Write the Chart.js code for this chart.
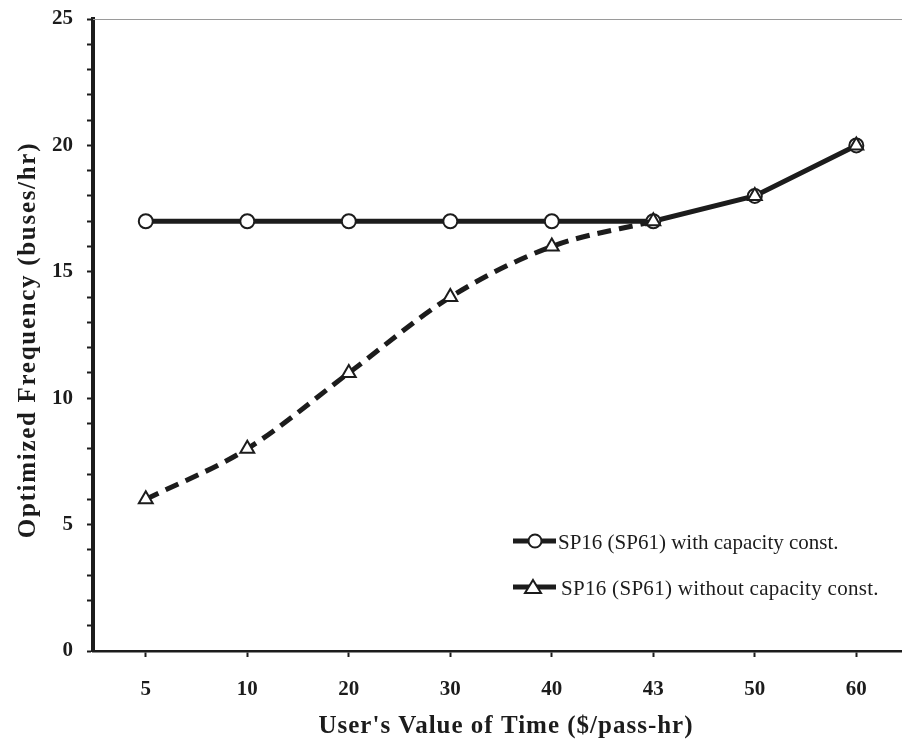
<!DOCTYPE html>
<html>
<head>
<meta charset="utf-8">
<script src="https://cdn.jsdelivr.net/npm/chart.js@4.4.0/dist/chart.umd.min.js"></script>
<style>
  html, body { margin: 0; padding: 0; background: #fff; }
  #wrap { width: 902px; height: 744px; }
</style>
</head>
<body>
<div id="wrap"><canvas id="freqChart" width="902" height="744"></canvas></div>
<script>
"use strict";

// Value of time categories ($/pass-hr)
const timeValues = ['5', '10', '20', '30', '40', '43', '50', '60'];
// Optimized frequency (buses/hr)
const withCapacity = [17, 17, 17, 17, 17, 17, 18, 20];
const withoutCapacity = [6, 8, 11, 14, 16, 17, 18, 20];

const seriesNames = ['SP16 (SP61) with capacity const.', 'SP16 (SP61) without capacity const.'];
const yTicks = [0, 5, 10, 15, 20, 25];

const ink = '#1c1c1c';
const serif = "'Liberation Serif', 'DejaVu Serif', serif";

var toPoints = function (values) {
    return values.map(function (v, i) { return { x: i, y: v }; });
};

// top frame line, axis titles and the legend inside the plot
var extrasPlugin = {
    id: 'extras',
    afterDraw: function (chart) {
        const ctx = chart.ctx;
        const area = chart.chartArea;
        ctx.save();

        ctx.strokeStyle = '#9a9a9a';
        ctx.lineWidth = 1.2;
        ctx.beginPath();
        ctx.moveTo(area.left, area.top + 0.5);
        ctx.lineTo(area.right, area.top + 0.5);
        ctx.stroke();

        // axis titles
        ctx.fillStyle = ink;
        ctx.font = 'bold 25px ' + serif;
        ctx.textAlign = 'center';
        ctx.textBaseline = 'alphabetic';
        ctx.letterSpacing = '1px';
        ctx.fillText("User's Value of Time ($/pass-hr)", 506, 733);

        ctx.save();
        ctx.translate(35, 340);
        ctx.rotate(-Math.PI / 2);
        ctx.letterSpacing = '1.7px';
        ctx.fillText('Optimized Frequency (buses/hr)', 0, 0);
        ctx.restore();

        // legend
        const rows = [
            { y: 541, marker: 'circle', text: seriesNames[0], tx: 558, ls: '0px' },
            { y: 587, marker: 'triangle', text: seriesNames[1], tx: 561, ls: '0.3px' }
        ];
        ctx.font = '21px ' + serif;
        ctx.textAlign = 'left';
        ctx.textBaseline = 'middle';
        rows.forEach(function (r) {
            ctx.strokeStyle = ink;
            ctx.lineWidth = 5;
            ctx.beginPath();
            ctx.moveTo(513, r.y);
            ctx.lineTo(556, r.y);
            ctx.stroke();
            ctx.lineWidth = 2;
            ctx.fillStyle = '#fff';
            ctx.beginPath();
            if (r.marker === 'circle') {
                ctx.arc(535, r.y, 6.5, 0, Math.PI * 2);
            } else {
                ctx.moveTo(533, r.y - 7);
                ctx.lineTo(541, r.y + 6);
                ctx.lineTo(525, r.y + 6);
                ctx.closePath();
            }
            ctx.fill();
            ctx.stroke();
            ctx.fillStyle = ink;
            ctx.letterSpacing = r.ls;
            ctx.fillText(r.text, r.tx, r.y + 2);
        });
        ctx.restore();
    }
};

var chart = new Chart(document.getElementById('freqChart'), {
    type: 'line',
    data: {
        datasets: [
            {
                label: seriesNames[0],
                data: toPoints(withCapacity),
                borderColor: ink,
                borderWidth: 5,
                tension: 0,
                pointStyle: 'circle',
                pointRadius: 7,
                pointBorderWidth: 2,
                pointBackgroundColor: '#fff',
                pointBorderColor: ink,
                order: 1
            },
            {
                label: seriesNames[1],
                data: toPoints(withoutCapacity),
                borderColor: ink,
                borderWidth: 5,
                borderDash: [14, 8],
                pointStyle: 'triangle',
                pointRadius: 8,
                pointBorderWidth: 2,
                pointBackgroundColor: '#fff',
                pointBorderColor: ink,
                cubicInterpolationMode: 'monotone',
                // where both series coincide only the solid line shows
                segment: {
                    borderColor: function (c) {
                        return withoutCapacity[c.p0DataIndex] === withCapacity[c.p0DataIndex] ? 'rgba(0,0,0,0)' : undefined;
                    }
                },
                order: 0
            }
        ]
    },
    options: {
        responsive: false,
        animation: false,
        layout: { autoPadding: false, padding: { top: 19, right: 0, left: 0, bottom: 0 } },
        plugins: {
            legend: { display: false },
            tooltip: { enabled: false }
        },
        scales: {
            x: {
                type: 'linear',
                min: -0.52,
                max: 7.45,
                afterBuildTicks: function (scale) {
                    scale.ticks = timeValues.map(function (_, i) { return { value: i }; });
                },
                afterFit: function (scale) {
                    scale.height = 93;
                    scale.paddingLeft = 0;
                    scale.paddingRight = 0;
                },
                ticks: {
                    autoSkip: false,
                    maxRotation: 0,
                    padding: 20,
                    color: ink,
                    font: { family: serif, size: 21, weight: 'bold' },
                    callback: function (v) { return timeValues[v]; }
                },
                grid: {
                    drawOnChartArea: false,
                    drawTicks: true,
                    tickLength: 6,
                    tickWidth: 2,
                    tickColor: ink
                },
                border: { display: true, color: ink, width: 2.5 }
            },
            y: {
                min: 0,
                max: 25,
                afterFit: function (scale) {
                    scale.width = 93;
                    scale.paddingTop = 0;
                    scale.paddingBottom = 0;
                },
                ticks: {
                    stepSize: 1,
                    autoSkip: false,
                    padding: 14,
                    color: ink,
                    font: { family: serif, size: 21, weight: 'bold' },
                    callback: function (v) { return yTicks.indexOf(v) >= 0 ? v : ''; }
                },
                grid: {
                    drawOnChartArea: false,
                    drawTicks: true,
                    tickLength: 6,
                    tickWidth: 2,
                    tickColor: ink
                },
                border: { display: true, color: ink, width: 4 }
            }
        }
    },
    plugins: [extrasPlugin]
});
</script>
</body>
</html>
